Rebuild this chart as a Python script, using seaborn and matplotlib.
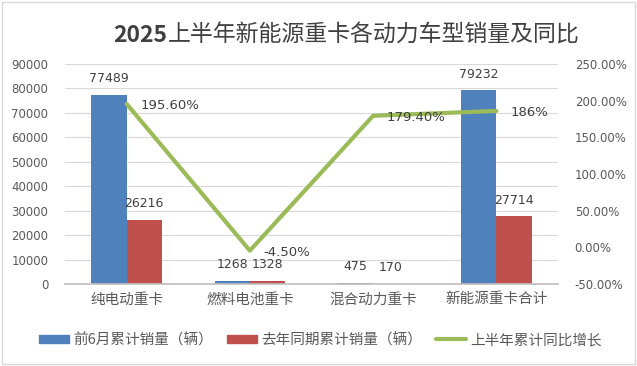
import numpy as np
import pandas as pd
import matplotlib
matplotlib.use("Agg")
import matplotlib.pyplot as plt
import seaborn as sns
from matplotlib.patches import Rectangle
from matplotlib.lines import Line2D
from matplotlib.ticker import FuncFormatter, MultipleLocator

categories = ["纯电动重卡", "燃料电池重卡", "混合动力重卡", "新能源重卡合计"]
sales_2025 = [77489, 1268, 475, 79232]
sales_2024 = [26216, 1328, 170, 27714]
growth = [1.956, -0.045, 1.794, 1.86]
growth_labels = ["195.60%", "-4.50%", "179.40%", "186%"]
series_names = ["前6月累计销量（辆）", "去年同期累计销量（辆）", "上半年累计同比增长"]
title_year = "2025"
title_rest = "上半年新能源重卡各动力车型销量及同比"

sns.set_theme(style="white")
plt.rcParams["font.family"] = ["Noto Sans CJK SC", "DejaVu Sans"]

BLUE = "#4F81BD"
RED = "#C0504D"
GREEN = "#9BBB59"
TXT = "#595959"

df = pd.DataFrame({
    "cat": categories * 2,
    "val": sales_2025 + sales_2024,
    "series": [series_names[0]] * 4 + [series_names[1]] * 4,
})

fig = plt.figure(figsize=(6.37, 3.66), dpi=100)
W, H = 637, 366
ax = fig.add_axes([65 / W, 1 - 284 / H, (558 - 65) / W, (284 - 64) / H])

sns.barplot(data=df, x="cat", y="val", hue="series", palette=[BLUE, RED],
            width=0.57, ax=ax, legend=False, saturation=1, edgecolor="none")
ax.set_ylim(0, 90000)
ax.set_xlim(-0.5, 3.5)
ax.yaxis.set_major_locator(MultipleLocator(10000))
ax.grid(axis="y", color="#D9D9D9", linewidth=0.8)
ax.set_axisbelow(True)
for s in ["top", "right", "left"]:
    ax.spines[s].set_visible(False)
ax.spines["bottom"].set_color("#BFBFBF")
ax.set_xlabel("")
ax.set_ylabel("")
ax.tick_params(axis="y", length=0, labelsize=8.5, labelcolor=TXT, pad=12)
ax.tick_params(axis="x", length=0, labelsize=10.5, labelcolor=TXT, pad=6)
for lab in ax.get_yticklabels():
    lab.set_fontfamily("DejaVu Sans")

for cont in ax.containers:
    for bar in cont:
        h = bar.get_height()
        ax.annotate(f"{int(h)}", (bar.get_x() + bar.get_width() / 2, h),
                    xytext=(0, 7), textcoords="offset points", ha="center",
                    va="bottom", fontsize=9, color="#404040", family="DejaVu Sans")

ax2 = ax.twinx()
xpos = np.arange(len(categories))
sns.lineplot(x=xpos, y=growth, ax=ax2, color=GREEN, linewidth=3, legend=False)
ax2.set_ylim(-0.5, 2.5)
ax2.yaxis.set_major_locator(MultipleLocator(0.5))
ax2.yaxis.set_major_formatter(FuncFormatter(lambda v, p: f"{v*100:.2f}%"))
for s in ["top", "right", "left", "bottom"]:
    ax2.spines[s].set_visible(False)
ax2.tick_params(axis="y", length=0, labelsize=8.5, labelcolor=TXT, pad=12)
for lab in ax2.get_yticklabels():
    lab.set_fontfamily("DejaVu Sans")
ax2.set_ylabel("")
for x, g, t in zip(xpos, growth, growth_labels):
    ax2.annotate(t, (x, g), xytext=(10, -1), textcoords="offset points",
                 ha="left", va="center", fontsize=9.5, color="#404040",
                 family="DejaVu Sans")

ty = 1 - 35 / H
year_txt = fig.text(113 / W, ty, title_year, ha="left", va="center", fontsize=16.5,
                    fontweight="bold", color="#404040", family="Noto Sans CJK SC")
fig.canvas.draw()
bb = year_txt.get_window_extent()
fig.text(bb.x1 / fig.bbox.width + 1 / W, ty, title_rest, ha="left", va="center",
         fontsize=16.5, fontweight="normal", color="#404040")

handles = [Rectangle((0, 0), 1, 1, color=BLUE), Rectangle((0, 0), 1, 1, color=RED),
           Line2D([0], [0], color=GREEN, linewidth=3)]
fig.legend(handles, series_names, loc="center", bbox_to_anchor=(0.503, 1 - 340 / H),
           ncol=3, frameon=False, fontsize=10.5, labelcolor=TXT, handlelength=2.1,
           handleheight=0.55, columnspacing=0.9, handletextpad=0.3)

fig.patches.append(Rectangle((2 / W, 2 / H), (W - 4) / W, (H - 4) / H,
                             transform=fig.transFigure, fill=False,
                             edgecolor="#D9D9D9", linewidth=1))

fig.savefig("out.png", dpi=100)
